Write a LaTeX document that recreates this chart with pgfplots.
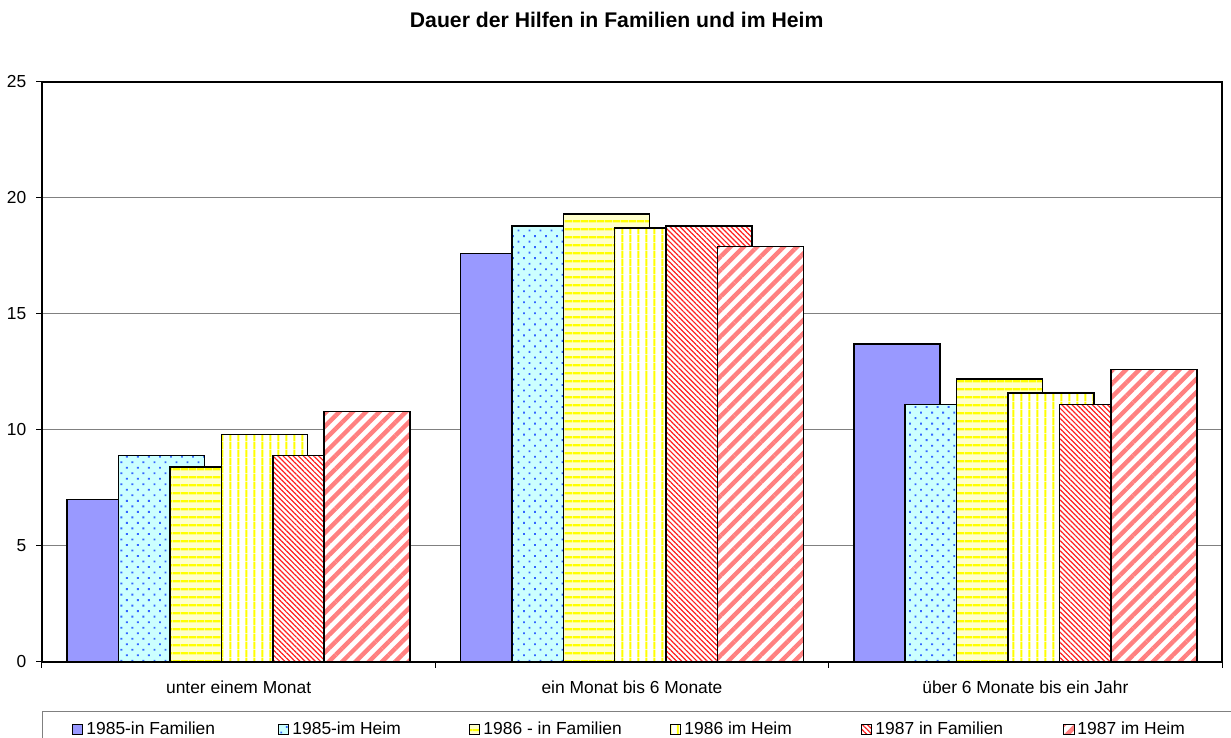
\documentclass[border=0pt]{standalone}
\usepackage{fontspec}
\setmainfont{Liberation Sans}
\usepackage{pgfplots}
\pgfplotsset{compat=1.18}
\usetikzlibrary{patterns.meta}
\definecolor{c1}{HTML}{9999FF}
\definecolor{cyanbg}{HTML}{CCFFFF}
\definecolor{dotblue}{HTML}{3366FF}
\definecolor{ylbg}{HTML}{FFFFCC}
\definecolor{yl}{HTML}{FFFF00}
\definecolor{rd}{HTML}{FF2020}
\definecolor{lrd}{HTML}{FF8080}
\definecolor{gridgray}{HTML}{808080}
\begin{document}
\begin{tikzpicture}
\path[use as bounding box] (-21pt,-38pt) rectangle (594.5pt,331pt);
\begin{axis}[
  scale only axis, width=590pt, height=290pt,
  font=\fontsize{8.7}{10}\selectfont,
  /pgf/number format/assume math mode=true,
  xmin=-0.5, xmax=2.5, ymin=0, ymax=25,
  ybar, bar width=43pt,
  axis line style={black, line width=0.6pt},
  xtick={-0.5,0.5,1.5,2.5}, xticklabels={},
  extra x ticks={0,1,2},
  extra x tick labels={unter einem Monat, ein Monat bis 6 Monate, über 6 Monate bis ein Jahr},
  extra x tick style={major tick length=0pt, xticklabel style={yshift=-6pt}},
  ytick={0,5,10,15,20,25},
  tick pos=left, tick align=outside, major tick length=2.8pt,
  tick style={black, line width=0.5pt},
  ymajorgrids, grid style={gridgray, line width=0.5pt},
  yticklabel style={xshift=-1.5pt},
  title={Dauer der Hilfen in Familien und im Heim},
  title style={at={(0.487,1.086)}, anchor=center, font=\bfseries\fontsize{10.6}{12}\selectfont},
  legend columns=6,
  legend cell align=left,
  legend style={at={(0,-0.0845)}, anchor=north west, draw=gridgray, line width=0.5pt,
    inner xsep=15pt, inner ysep=3pt, nodes={inner xsep=1.5pt, inner ysep=2pt}},
  legend image code/.code={\draw[#1, line width=0.5pt] (0pt,-2.5pt) rectangle (5pt,2.5pt);},
  every axis plot/.append style={draw=black, line width=0.75pt},
]
\addplot[bar shift=-64.25pt, fill=c1] coordinates {(0,7.0) (1,17.6) (2,13.7)};
\addplot[bar shift=-38.55pt, fill=cyanbg, postaction={pattern={Dots[angle=45,distance=3.9pt,radius=0.65pt]}, pattern color=dotblue}] coordinates {(0,8.9) (1,18.8) (2,11.1)};
\addplot[bar shift=-12.85pt, fill=ylbg, postaction={pattern={Lines[angle=0,distance=3.85pt,line width=1.1pt]}, pattern color=yl}] coordinates {(0,8.4) (1,19.3) (2,12.2)};
\addplot[bar shift=12.85pt, fill=white, postaction={pattern={Lines[angle=90,distance=3.85pt,line width=1.0pt]}, pattern color=yl}] coordinates {(0,9.8) (1,18.7) (2,11.6)};
\addplot[bar shift=38.55pt, fill=white, postaction={pattern={Lines[angle=-45,distance=1.8pt,line width=0.6pt]}, pattern color=rd}] coordinates {(0,8.9) (1,18.8) (2,11.1)};
\addplot[bar shift=64.25pt, fill=white, postaction={pattern={Lines[angle=45,distance=4.7pt,line width=2.2pt]}, pattern color=lrd}] coordinates {(0,10.8) (1,17.9) (2,12.6)};
\addlegendentry{\makebox[94.5pt][l]{1985-in Familien}}
\addlegendentry{\makebox[87pt][l]{1985-im Heim}}
\addlegendentry{\makebox[92pt][l]{1986 - in Familien}}
\addlegendentry{\makebox[87pt][l]{1986 im Heim}}
\addlegendentry{\makebox[92.5pt][l]{1987 in Familien}}
\addlegendentry{\makebox[90pt][l]{1987 im Heim}}
\end{axis}
\end{tikzpicture}
\end{document}
